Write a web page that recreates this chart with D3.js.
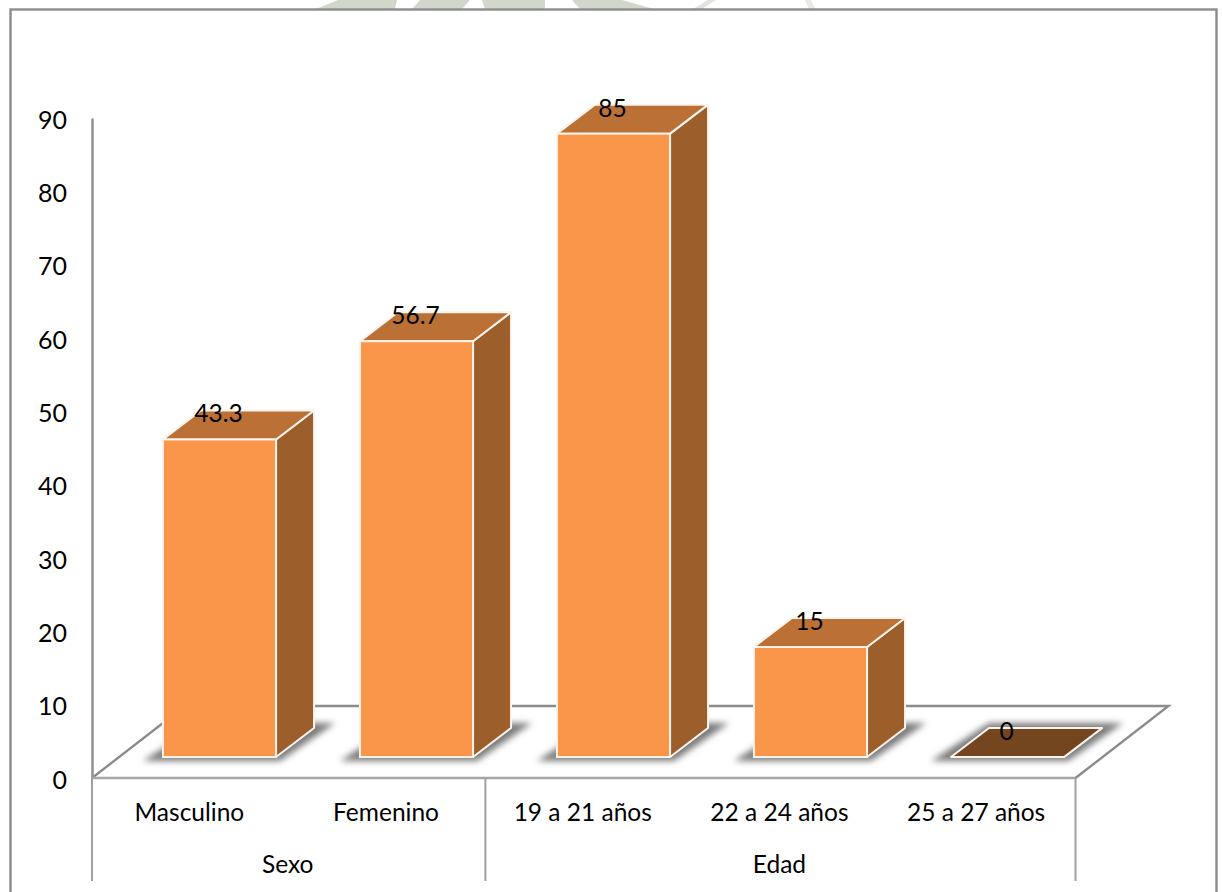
<!DOCTYPE html>
<html>
<head>
<meta charset="utf-8">
<style>
html, body { margin: 0; padding: 0; background: #fff; }
svg { display: block; }
text { font-family: Lato, "Open Sans", sans-serif; fill: #000; }
</style>
</head>
<body>
<svg id="chart" width="1222" height="892"></svg>
<script src="https://cdn.jsdelivr.net/npm/d3@7"></script>
<script>
// Survey percentages by sex and age bracket
const categories = ["Masculino", "Femenino", "19 a 21 años", "22 a 24 años", "25 a 27 años"];
const values = [43.3, 56.7, 85, 15, 0];
const valueLabels = ["43.3", "56.7", "85", "15", "0"];
const groups = [
  { name: "Sexo", members: ["Masculino", "Femenino"] },
  { name: "Edad", members: ["19 a 21 años", "22 a 24 años", "25 a 27 años"] }
];
const yTicks = [0, 10, 20, 30, 40, 50, 60, 70, 80, 90];

const svg = d3.select("#chart");

// Chart layout
const box = { left: 10.5, top: 9.5, right: 1216.5, bottom: 900 };
const plot = { left: 92, right: 1075.5, top: 118, bottom: 778 };
const floorDepth = { dx: 93, dy: -72 };   // receding floor edge
const barBaseLift = 21;                    // bars stand this far back on the floor
const barDepth = { dx: 38, dy: -29 };      // side/top extrusion of each bar

const y = d3.scaleLinear().domain([0, 90]).range([plot.bottom, plot.top]);
const x = d3.scaleBand().domain(categories).range([121, 1106])
  .paddingInner(0.426).paddingOuter(0.213);
const xLabel = d3.scaleBand().domain(categories).range([plot.left, plot.right]);

const defs = svg.append("defs");
const softShadow = defs.append("filter").attr("id", "soft")
  .attr("x", "-30%").attr("y", "-30%").attr("width", "160%").attr("height", "160%");
softShadow.append("feGaussianBlur").attr("stdDeviation", 3);

const grey = "#8c8c8c";

// Page seal peeking out above the frame
const seal = svg.append("g").attr("fill", "#cfd8cb");
seal.append("path").attr("d", "M338,0 L622,0 L654,9 L316,9 Z");
seal.append("path").attr("d", "M397,0 L420,0 L412,9 L395,9 Z").attr("fill", "#fff");
seal.append("path").attr("d", "M470,0 L482,0 L485,9 L462,9 Z").attr("fill", "#fff");
seal.append("path").attr("d", "M545,0 L572,0 L580,9 L545,9 Z").attr("fill", "#fff");
seal.append("path").attr("d", "M708,0 L716,0 L702,9 L693,9 Z").attr("fill", "#dfe5dc");
seal.append("path").attr("d", "M805,0 L811,0 L815,9 L809,9 Z").attr("fill", "#e6ebe4");

// Outer frame
svg.append("rect")
  .attr("x", box.left).attr("y", box.top)
  .attr("width", box.right - box.left).attr("height", box.bottom - box.top)
  .attr("fill", "#fff").attr("stroke", grey).attr("stroke-width", 2.4);

// Floor outline
const floorPath = d3.path();
floorPath.moveTo(plot.left, plot.bottom);
floorPath.lineTo(plot.left + floorDepth.dx, plot.bottom + floorDepth.dy);
floorPath.lineTo(plot.right + floorDepth.dx, plot.bottom + floorDepth.dy);
floorPath.lineTo(plot.right, plot.bottom);
svg.append("path").attr("d", floorPath.toString())
  .attr("fill", "none").attr("stroke", grey).attr("stroke-width", 2.4);

// Value axis
const yAxis = d3.axisLeft(y).tickValues(yTicks).tickSize(0).tickPadding(25);
const yG = svg.append("g").attr("transform", `translate(${plot.left},2)`).call(yAxis);
yG.select(".domain").attr("transform", "translate(0,-2)").attr("stroke", grey).attr("stroke-width", 2.4);
yG.selectAll("text").attr("font-size", 25).style("font-family", "Lato, 'Open Sans', sans-serif");

// Category axis: baseline, group separators, two rows of labels
svg.append("line")
  .attr("x1", plot.left).attr("x2", plot.right)
  .attr("y1", plot.bottom).attr("y2", plot.bottom)
  .attr("stroke", "#a6a6a6").attr("stroke-width", 2.4);

const groupEdges = [xLabel(groups[0].members[0])].concat(
  groups.map(g => xLabel(g.members[g.members.length - 1]) + xLabel.step()));
svg.selectAll("line.sep").data(groupEdges).join("line")
  .attr("class", "sep")
  .attr("x1", d => d).attr("x2", d => d)
  .attr("y1", plot.bottom).attr("y2", 881)
  .attr("stroke", "#a0a0a0").attr("stroke-width", 2);

svg.selectAll("text.cat").data(categories).join("text")
  .attr("class", "cat")
  .attr("x", d => xLabel(d) + xLabel.step() / 2 - 1)
  .attr("y", 821)
  .attr("text-anchor", "middle").attr("font-size", 24.5)
  .text(d => d);

svg.selectAll("text.grp").data(groups).join("text")
  .attr("class", "grp")
  .attr("x", g => (xLabel(g.members[0]) + xLabel(g.members[g.members.length - 1]) + xLabel.step()) / 2 - 1)
  .attr("y", 873)
  .attr("text-anchor", "middle").attr("font-size", 24.5)
  .text(g => g.name);

// Bars
const rows = categories.map((c, i) => ({ c, v: values[i], label: valueLabels[i] }));
const barBase = y(0) - barBaseLift;
const barTop = d => y(d.v) - barBaseLift;
const poly = pts => "M" + pts.map(p => p.join(",")).join("L") + "Z";

const bars = svg.selectAll("g.bar").data(rows).join("g").attr("class", "bar");

// Ground shadow sits on the floor behind and beside each bar
bars.append("path")
  .attr("d", d => {
    const l = x(d.c), r = l + x.bandwidth();
    return poly([[l - 20, barBase + 4], [r + 4, barBase + 4],
      [r + barDepth.dx + 21, barBase + barDepth.dy - 5], [l + barDepth.dx, barBase + barDepth.dy - 5]]);
  })
  .attr("fill", "#7c7c7c").attr("filter", "url(#soft)");

const edge = "#fdf3ea";
bars.append("path").attr("class", "side")
  .attr("d", d => {
    const r = x(d.c) + x.bandwidth();
    return poly([[r, barTop(d)], [r + barDepth.dx, barTop(d) + barDepth.dy],
      [r + barDepth.dx, barBase + barDepth.dy], [r, barBase]]);
  })
  .attr("fill", "#9c5f2c").attr("stroke", edge).attr("stroke-width", 2)
  .attr("stroke-linejoin", "round");

bars.append("path").attr("class", "cap")
  .attr("d", d => {
    const l = x(d.c), r = l + x.bandwidth();
    return poly([[l, barTop(d)], [r, barTop(d)],
      [r + barDepth.dx, barTop(d) + barDepth.dy], [l + barDepth.dx, barTop(d) + barDepth.dy]]);
  })
  .attr("fill", d => d.v === 0 ? "#74461f" : "#bb7035")
  .attr("stroke", edge).attr("stroke-width", 2).attr("stroke-linejoin", "round");

bars.filter(d => d.v > 0).append("rect").attr("class", "front")
  .attr("x", d => x(d.c)).attr("y", barTop)
  .attr("width", x.bandwidth()).attr("height", d => barBase - barTop(d))
  .attr("fill", "#f99649").attr("stroke", edge).attr("stroke-width", 2);

// Value labels straddle the back edge of each bar's top
bars.append("text")
  .attr("x", d => x(d.c) + x.bandwidth() / 2 - 1)
  .attr("y", d => barTop(d) + barDepth.dy + 12)
  .attr("text-anchor", "middle").attr("font-size", 24.5)
  .text(d => d.label);
</script>
</body>
</html>
